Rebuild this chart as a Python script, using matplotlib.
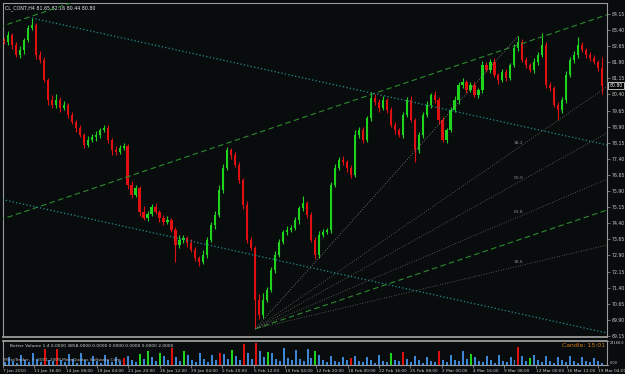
import numpy as np
import matplotlib.pyplot as plt
import matplotlib.transforms as mtransforms

plt.rcParams['font.family'] = ['DejaVu Sans']

# CL_CONT H4 -- each candle here stands for ~2 H4 bars of the screenshot
first_open = 82.90
closes = [
    82.85, 83.17, 82.71, 82.24, 82.47, 82.94, 83.50, 83.64, 82.24, 82.01,
    81.08, 80.14, 79.91, 80.14, 79.77, 79.91, 79.45, 79.12, 78.84, 78.51,
    78.05, 78.28, 78.42, 78.51, 78.75, 78.84, 78.28, 77.82, 77.72, 77.91,
    78.00, 76.19, 75.72, 76.05, 74.93, 74.65, 74.83, 75.16, 74.93, 74.65,
    74.46, 74.56, 74.09, 73.39, 73.62, 73.72, 73.48, 73.16, 72.78, 72.60,
    72.93, 73.62, 74.32, 74.79, 75.95, 76.98, 77.82, 77.58, 77.12, 76.42,
    75.25, 73.62, 73.25, 70.83, 70.13, 70.83, 71.30, 72.23, 72.93, 73.53,
    73.99, 74.09, 74.18, 74.56, 75.11, 75.35, 74.79, 73.62, 72.93, 73.86,
    73.99, 74.09, 76.19, 76.98, 77.35, 77.26, 76.98, 76.65, 78.51, 78.75,
    78.28, 79.31, 80.24, 80.05, 79.77, 80.14, 79.68, 78.98, 78.75, 78.51,
    79.45, 80.14, 79.21, 77.82, 78.51, 79.45, 79.91, 80.38, 80.14, 79.21,
    78.28, 78.75, 79.68, 80.14, 80.84, 80.98, 80.61, 80.84, 80.38, 80.61,
    81.77, 81.54, 81.91, 81.31, 81.08, 81.45, 81.17, 81.77, 82.57, 82.85,
    82.01, 81.77, 81.54, 81.91, 82.24, 82.71, 80.84, 80.70, 79.91, 79.68,
    80.14, 81.31, 82.01, 82.24, 82.71, 82.47, 82.24, 82.10, 81.91, 81.65,
    80.80,
]
upper_wick = [
    0.15, 0.20, 0.10, 0.12, 0.18, 0.10, 0.15, 0.32, 0.10, 0.20,
    0.15, 0.10, 0.25, 0.30, 0.12, 0.20, 0.10, 0.15, 0.08, 0.12,
    0.10, 0.20, 0.15, 0.18, 0.10, 0.12, 0.15, 0.10, 0.20, 0.12,
    0.15, 0.10, 0.20, 0.12, 0.10, 0.25, 0.12, 0.15, 0.18, 0.10,
    0.12, 0.20, 0.10, 0.15, 0.25, 0.12, 0.10, 0.18, 0.12, 0.10,
    0.20, 0.15, 0.12, 0.18, 0.25, 0.20, 0.15, 0.10, 0.15, 0.12,
    0.10, 0.20, 0.12, 0.10, 0.25, 0.30, 0.15, 0.12, 0.18, 0.15,
    0.10, 0.20, 0.12, 0.15, 0.10, 0.32, 0.10, 0.12, 0.15, 0.20,
    0.12, 0.10, 0.15, 0.20, 0.12, 0.18, 0.10, 0.15, 0.25, 0.12,
    0.15, 0.10, 0.28, 0.18, 0.12, 0.20, 0.10, 0.15, 0.12, 0.10,
    0.15, 0.12, 0.20, 0.10, 0.15, 0.12, 0.18, 0.10, 0.20, 0.15,
    0.12, 0.10, 0.15, 0.20, 0.12, 0.18, 0.10, 0.15, 0.12, 0.10,
    0.20, 0.15, 0.12, 0.18, 0.10, 0.15, 0.12, 0.10, 0.20, 0.28,
    0.15, 0.12, 0.10, 0.18, 0.12, 0.56, 0.15, 0.12, 0.10, 0.15,
    0.12, 0.20, 0.15, 0.18, 0.37, 0.12, 0.10, 0.15, 0.12, 0.10,
    0.51,
]
lower_wick = [
    0.12, 0.15, 0.20, 0.10, 0.12, 0.18, 0.10, 0.12, 0.20, 0.15,
    0.10, 0.25, 0.15, 0.12, 0.20, 0.10, 0.15, 0.12, 0.18, 0.10,
    0.15, 0.12, 0.10, 0.20, 0.15, 0.10, 0.12, 0.25, 0.15, 0.10,
    0.12, 0.20, 0.15, 0.10, 0.18, 0.12, 0.15, 0.10, 0.12, 0.20,
    0.15, 0.10, 0.12, 0.79, 0.15, 0.12, 0.20, 0.10, 0.15, 0.18,
    0.12, 0.15, 0.10, 0.20, 0.12, 0.15, 0.10, 0.18, 0.12, 0.15,
    0.20, 0.15, 0.12, 1.35, 0.20, 0.15, 0.12, 0.10, 0.15, 0.12,
    0.10, 0.15, 0.12, 0.10, 0.18, 0.12, 0.15, 0.10, 0.20, 0.15,
    0.12, 0.10, 0.15, 0.12, 0.10, 0.15, 0.20, 0.12, 0.10, 0.15,
    0.12, 0.10, 0.15, 0.12, 0.20, 0.10, 0.15, 0.12, 0.18, 0.10,
    0.15, 0.12, 0.10, 0.56, 0.15, 0.12, 0.10, 0.15, 0.12, 0.20,
    0.10, 0.15, 0.12, 0.10, 0.18, 0.12, 0.15, 0.10, 0.12, 0.15,
    0.12, 0.10, 0.15, 0.12, 0.20, 0.10, 0.15, 0.12, 0.10, 0.15,
    0.12, 0.15, 0.10, 0.12, 0.15, 0.10, 0.12, 0.15, 0.10, 0.47,
    0.15, 0.12, 0.10, 0.15, 0.12, 0.10, 0.15, 0.12, 0.10, 0.15,
    0.36,
]

# Better Volume (thousands) and the bars it paints red / green
volume_k = [
    3, 8, 4, 2, 10, 5, 3, 12, 6, 3, 16, 5,
    4, 16, 5, 3, 11, 6, 2, 12, 5, 3, 9, 4,
    2, 10, 5, 3, 8, 4, 7, 9, 5, 3, 11, 6,
    14, 8, 4, 12, 9, 5, 17, 8, 4, 14, 10, 5,
    3, 12, 6, 3, 10, 5, 12, 11, 6, 15, 9, 5,
    21, 12, 6, 22, 14, 8, 13, 12, 6, 4, 17, 7,
    5, 15, 6, 4, 16, 7, 14, 10, 5, 3, 9, 4,
    3, 8, 5, 7, 9, 4, 3, 8, 5, 2, 10, 4,
    3, 12, 5, 4, 13, 6, 3, 9, 5, 2, 8, 4,
    3, 14, 5, 3, 10, 5, 4, 14, 6, 11, 8, 4,
    3, 9, 5, 2, 10, 4, 3, 8, 5, 18, 9, 4,
    7, 10, 5, 3, 9, 4, 2, 8, 5, 3, 9, 4,
    2, 8, 4, 3, 7, 4, 2,
]
red_vol = [10, 13, 30, 42, 54, 60, 63, 87, 100, 109, 129]
green_vol = [34, 36, 39, 45, 57, 66, 78, 97, 117, 132]
vol_max = 24168.6

price_ticks = [84.15, 83.40, 82.65, 81.90, 81.15, 80.40, 79.65, 78.90, 78.15,
               77.40, 76.65, 75.90, 75.15, 74.40, 73.65, 72.90, 72.15, 71.40,
               70.65, 69.90, 69.15]
date_labels = ['7 Jan 2010', '11 Jan 16:00', '14 Jan 08:00', '19 Jan 04:00',
               '21 Jan 20:00', '26 Jan 12:00', '29 Jan 04:00', '2 Feb 20:00',
               '5 Feb 12:00', '10 Feb 04:00', '12 Feb 20:00', '18 Feb 00:00',
               '22 Feb 16:00', '25 Feb 08:00', '2 Mar 00:00', '4 Mar 16:00',
               '9 Mar 08:00', '12 Mar 00:00', '16 Mar 12:00', '19 Mar 04:00']
title_text = 'CL_CONT,H4 81.65 82.16 80.44 80.80'
last_price = 80.80
fan_levels = [38.2, 50.0, 61.8, 78.6]

BG = '#080c0d'
FG = '#c8c8c8'
AX = '#9a9a9a'
BULL = '#1ed41e'
BEAR = '#e01010'
VOL = '#3d86d6'

n = len(closes)
idx = np.arange(n)
c = np.array(closes)
o = np.concatenate([[first_open], c[:-1]])
hi = np.maximum(o, c) + np.array(upper_wick)
lo = np.minimum(o, c) - np.array(lower_wick)

fig = plt.figure(figsize=(6.25, 3.74), dpi=100, facecolor=BG)
ax = fig.add_axes([3 / 625, 37 / 374, 604 / 625, 334 / 374], facecolor=BG)
vax = fig.add_axes([3 / 625, 9 / 374, 604 / 625, 24 / 374], facecolor=BG)

xmin, xmax = -0.25, 151.24
ax.set_xlim(xmin, xmax)
ax.set_ylim(69.10, 84.66)

# candles
col = np.where(c >= o, BULL, BEAR)
ax.vlines(idx, lo, hi, colors=col, lw=0.8, zorder=2)
body = np.maximum(np.abs(c - o), 0.04)
ax.bar(idx, body, bottom=np.minimum(o, c), width=0.55, color=col, lw=0, zorder=3)

# equidistant green channel
ch_p0, ch_p1 = 74.62, 84.03      # middle line at bar 0 and bar 150
ch_slope = (ch_p1 - ch_p0) / 150
i_low = int(np.argmin(lo))
ch_gap_up = 8.99
ch_gap_dn = (ch_p0 + ch_slope * i_low) - lo[i_low]
xx = np.array([xmin - 2, xmax + 2])
ax.plot(xx, ch_p0 + ch_slope * xx, color='#2e8b2e', lw=0.8, dashes=(5, 3), zorder=4)
ax.plot(xx, ch_p0 + ch_gap_up + ch_slope * xx, color='#2e8b2e', lw=0.8, dashes=(5, 3), zorder=4)
xl = np.array([i_low, xmax + 2])
ax.plot(xl, ch_p0 - ch_gap_dn + ch_slope * xl, color='#2e8b2e', lw=0.8, dashes=(5, 3), zorder=4)

# teal descending channel from the January high
i_top = 7
tl_slope = -0.041
tl_gap = 8.76
xt = np.array([i_top, xmax + 2])
ax.plot(xt, hi[i_top] + tl_slope * (xt - i_top), color='#238f8f', lw=0.9,
        dashes=(1, 1.8), zorder=4)
ax.plot(xx, hi[i_top] - tl_gap + tl_slope * (xx - i_top), color='#238f8f', lw=0.9,
        dashes=(1, 1.8), zorder=4)

# Fibonacci fan from the February low to the March high
i_hi = 129
p_low, p_high = lo[i_low], hi[i_hi]
ax.plot([i_low, i_hi], [p_low, p_high], color='#8a8a8a', lw=0.6, dashes=(1, 2), zorder=4)
for lev in fan_levels:
    p_lev = p_high - lev / 100 * (p_high - p_low)
    k = (p_lev - p_low) / (i_hi - i_low)
    xf = np.array([i_low, xmax + 2])
    ax.plot(xf, p_low + k * (xf - i_low), color='#6e6c64', lw=0.6, dashes=(1, 2), zorder=4)
    ax.text(i_hi, p_lev + 0.12, f'{lev:.1f}', color='#8a8a8a', fontsize=3.2,
            ha='center', va='bottom', zorder=5)

# price axis
ax.set_xticks([])
ax.yaxis.tick_right()
ax.set_yticks(price_ticks)
ax.set_yticklabels([f'{v:.2f}' for v in price_ticks])
ax.tick_params(axis='y', colors=AX, labelcolor=FG, labelsize=3.3, length=2, width=0.5, pad=1.5)
for s in ax.spines.values():
    s.set_color(AX)
    s.set_linewidth(0.8)
ax.spines['bottom'].set_linewidth(1.3)

trans = mtransforms.blended_transform_factory(ax.transAxes, ax.transData)
ax.text(1.004, last_price, f'{last_price:.2f}', transform=trans, va='center', ha='left',
        fontsize=3.3, color='white', zorder=6,
        bbox=dict(boxstyle='square,pad=0.2', fc='black', ec='white', lw=0.5))
ax.text(0.004, 0.993, title_text, transform=ax.transAxes, va='top', ha='left',
        color='#e6e6e6', fontsize=3.4)

# volume panel
vcol = [VOL] * n
for i in red_vol:
    vcol[i] = BEAR
for i in green_vol:
    vcol[i] = BULL
vax.bar(idx, np.array(volume_k) * 1000, width=0.5, color=vcol, lw=0)
vax.set_xlim(xmin, xmax)
vax.set_ylim(0, vol_max)
vax.yaxis.tick_right()
vax.set_yticks([0, vol_max])
vax.set_yticklabels(['0.00', f'{vol_max:.1f}'])
vax.tick_params(axis='y', colors=AX, labelcolor=FG, labelsize=2.5, length=1.5, width=0.5, pad=0.5)
for lab in vax.get_yticklabels():
    lab.set_verticalalignment('top' if lab.get_text() != '0.00' else 'bottom')
for s in vax.spines.values():
    s.set_color(AX)
    s.set_linewidth(0.8)
vax.spines['top'].set_linewidth(1.3)

xpos = [(31.39 * k - 4) / 3.987 + 0.5 for k in range(len(date_labels))]
vax.set_xticks(xpos)
vax.set_xticklabels(date_labels, ha='left')
vax.tick_params(axis='x', colors=AX, labelcolor=FG, labelsize=3.1, length=2, width=0.5, pad=1)

vax.text(0.012, 0.80, 'Better Volume 1.4 0.0000 3858.0000 0.0000 0.0000 0.0000 0.0000 2.0000',
         transform=vax.transAxes, va='center', ha='left', color='#d0d0d0', fontsize=3.2)
vax.text(0.925, 0.80, 'Candle: 15:01', transform=vax.transAxes, va='center', ha='left',
         color='#d07818', fontsize=4.4)
vax.text(0.002, 0.22, 'MetaTrader, \u00a9 2001-2009 MetaQuotes Software Corp.',
         transform=vax.transAxes, va='center', ha='left', color='#b8b8b8', fontsize=3.2)

fig.savefig('out.png', dpi=100, facecolor=BG)
